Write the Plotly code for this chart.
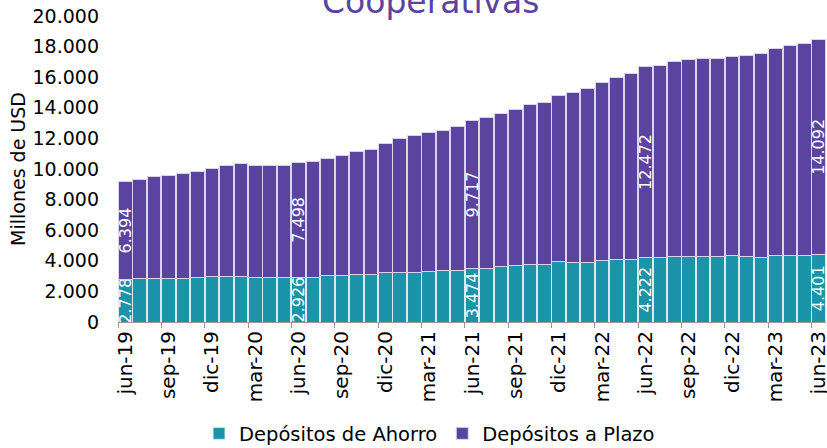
import plotly.graph_objects as go

# month labels jun-19 .. jun-23
cal = ["ene", "feb", "mar", "abr", "may", "jun", "jul", "ago", "sep", "oct", "nov", "dic"]
categories = []
mi, yr = 5, 19
for _ in range(49):
    categories.append(f"{cal[mi]}-{yr}")
    mi += 1
    if mi == 12:
        mi = 0
        yr += 1

ahorro = [2778, 2842, 2864, 2842, 2864, 2885, 2973, 2951, 2951, 2907, 2907, 2907,
          2926, 2929, 3016, 3038, 3103, 3103, 3256, 3256, 3256, 3300, 3365, 3387,
          3474, 3518, 3605, 3670, 3736, 3736, 3954, 3910, 3910, 3997, 4063, 4106,
          4222, 4215, 4302, 4302, 4259, 4259, 4368, 4259, 4237, 4324, 4368, 4368,
          4401]
plazo = [6394, 6483, 6656, 6744, 6874, 6962, 7092, 7267, 7397, 7354, 7311, 7311,
         7498, 7550, 7681, 7855, 8073, 8182, 8421, 8726, 8922, 9075, 9160, 9399,
         9717, 9876, 10031, 10227, 10469, 10619, 10859, 11079, 11360, 11646, 11906, 12164,
         12472, 12578, 12733, 12863, 12972, 12950, 13013, 13148, 13301, 13580, 13712, 13843,
         14092]
labeled = [0, 12, 24, 36, 48]

def fmt(v):
    return f"{v:,}".replace(",", ".")

text_ah = [fmt(v) if i in labeled else "" for i, v in enumerate(ahorro)]
text_pl = [fmt(v) if i in labeled else "" for i, v in enumerate(plazo)]

FONT = "DejaVu Sans"
TEAL = "#1B93A8"
PURPLE = "#5B44A0"

fig = go.Figure()
fig.add_trace(go.Bar(
    x=categories, y=ahorro, name="Depósitos de Ahorro",
    marker=dict(color=TEAL, line=dict(color="#DCE9EE", width=1)),
    text=text_ah, textposition="inside", insidetextanchor="middle",
    textangle=-90, textfont=dict(color="white", size=16, family=FONT),
    cliponaxis=False,
))
fig.add_trace(go.Bar(
    x=categories, y=plazo, name="Depósitos a Plazo",
    marker=dict(color=PURPLE, line=dict(color="#DAD3EC", width=1)),
    text=text_pl, textposition="inside", insidetextanchor="middle",
    textangle=-90, textfont=dict(color="white", size=16, family=FONT),
    cliponaxis=False,
))

fig.add_annotation(
    text="Cooperativas", xref="paper", yref="paper", x=0.442, y=1.047,
    xanchor="center", yanchor="middle", showarrow=False,
    font=dict(family=FONT, size=33, color=PURPLE),
)

fig.update_layout(
    barmode="stack",
    bargap=0.06,
    width=827, height=448,
    separators=",.",
    plot_bgcolor="white", paper_bgcolor="white",
    margin=dict(l=118, r=1, t=16, b=126, autoexpand=False),
    font=dict(family=FONT, color="black", size=17),
    uniformtext=dict(minsize=16, mode="show"),
    legend=dict(orientation="h", x=0.44, xanchor="center", y=-0.365, yanchor="middle",
                font=dict(size=19.5), itemwidth=30, tracegroupgap=0, traceorder="normal"),
    showlegend=True,
)
fig.update_xaxes(
    type="category", tickson="boundaries", dtick=3, tick0=0,
    ticks="outside", ticklen=5, tickcolor="#999999",
    showline=True, linecolor="#999999", linewidth=1,
    tickangle=-90, tickfont=dict(size=20), showgrid=False, automargin=False,
)
fig.update_yaxes(
    range=[0, 20000], dtick=2000, tickformat=",d", showgrid=False,
    showline=False, ticks="", ticklabelstandoff=18, tickfont=dict(size=19),
    title=dict(text="Millones de USD", font=dict(size=19), standoff=1),
    zeroline=False, automargin=False,
)

fig.write_html(
    "out.html",
    config={"displayModeBar": False},
    post_script="document.body.style.margin='0';document.body.style.overflow='hidden';",
)
